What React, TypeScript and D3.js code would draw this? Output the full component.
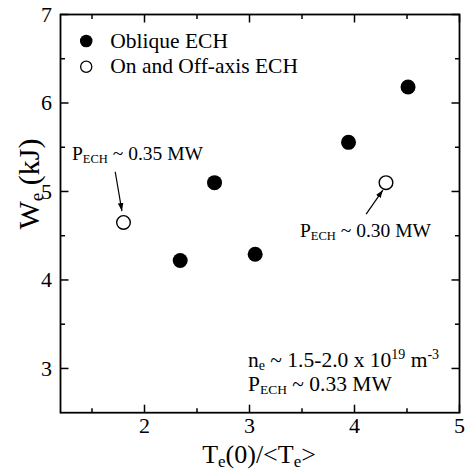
import React from "react";
import * as d3 from "d3";

const obliqueX = [2.34, 2.667, 3.054, 3.943, 4.51];
const obliqueY = [4.22, 5.1, 4.29, 5.555, 6.18];
const onOffX = [1.8, 4.3];
const onOffY = [4.65, 5.1];
const xMajor = [2, 3, 4, 5];
const xMinor = [1.5, 2.5, 3.5, 4.5];
const yMajor = [3, 4, 5, 6, 7];
const yMinor = [3.5, 4.5, 5.5, 6.5];
const arrows = [
  { x1: 1.721, y1: 5.223, x2: 1.785, y2: 4.779 },
  { x1: 4.111, y1: 4.745, x2: 4.27, y2: 5.016 },
];

const W = 473;
const H = 472;
const L = 60.5, R = 459.5, T = 14.5, B = 412.7;
const FONT = "'Liberation Serif', 'Times New Roman', serif";

export default function App() {
  const x = d3.scaleLinear().domain([1.2, 5]).range([L, R]);
  const y = d3.scaleLinear().domain([2.5, 7]).range([B, T]);
  const maj = 8, min = 4.5;
  return (
    <div style={{ position: "absolute", left: 0, top: 0 }}>
      <svg width={W} height={H} style={{ display: "block", background: "#fff" }} fontFamily={FONT}>
        <defs>
          <marker id="ah" viewBox="0 0 10 10" refX="10" refY="5" markerWidth="8" markerHeight="8" orient="auto" markerUnits="userSpaceOnUse">
            <path d="M0,1.5 L10,5 L0,8.5 Z" fill="#000" />
          </marker>
        </defs>
        <rect x={L} y={T} width={R - L} height={B - T} fill="none" stroke="#000" strokeWidth={1.8} />
        {xMajor.map((v) => (
          <g key={"xm" + v}>
            <line x1={x(v)} x2={x(v)} y1={B} y2={B - maj} stroke="#000" strokeWidth={1.5} />
            <line x1={x(v)} x2={x(v)} y1={T} y2={T + maj} stroke="#000" strokeWidth={1.5} />
            <text x={x(v)} y={433} textAnchor="middle" fontSize={22}>{v}</text>
          </g>
        ))}
        {xMinor.map((v) => (
          <g key={"xn" + v}>
            <line x1={x(v)} x2={x(v)} y1={B} y2={B - min} stroke="#000" strokeWidth={1.5} />
            <line x1={x(v)} x2={x(v)} y1={T} y2={T + min} stroke="#000" strokeWidth={1.5} />
          </g>
        ))}
        {yMajor.map((v) => (
          <g key={"ym" + v}>
            <line x1={L} x2={L + maj} y1={y(v)} y2={y(v)} stroke="#000" strokeWidth={1.5} />
            <line x1={R} x2={R - maj} y1={y(v)} y2={y(v)} stroke="#000" strokeWidth={1.5} />
            <text x={52} y={y(v) + 7.5} textAnchor="end" fontSize={22}>{v}</text>
          </g>
        ))}
        {yMinor.map((v) => (
          <g key={"yn" + v}>
            <line x1={L} x2={L + min} y1={y(v)} y2={y(v)} stroke="#000" strokeWidth={1.5} />
            <line x1={R} x2={R - min} y1={y(v)} y2={y(v)} stroke="#000" strokeWidth={1.5} />
          </g>
        ))}
        {obliqueX.map((v, i) => (
          <circle key={"o" + i} cx={x(v)} cy={y(obliqueY[i])} r={7.5} fill="#000" />
        ))}
        {onOffX.map((v, i) => (
          <circle key={"f" + i} cx={x(v)} cy={y(onOffY[i])} r={6.8} fill="#fff" stroke="#000" strokeWidth={1.4} />
        ))}
        {arrows.map((a, i) => (
          <line key={"a" + i} x1={x(a.x1)} y1={y(a.y1)} x2={x(a.x2)} y2={y(a.y2)} stroke="#000" strokeWidth={1.2} markerEnd="url(#ah)" />
        ))}
        {/* legend */}
        <circle cx={x(1.445)} cy={y(6.7)} r={6.3} fill="#000" />
        <circle cx={x(1.445)} cy={y(6.41)} r={5.6} fill="#fff" stroke="#000" strokeWidth={1.3} />
        <text x={x(1.674)} y={48} fontSize={21.5}>Oblique ECH</text>
        <text x={x(1.674)} y={73} fontSize={21.5}>On and Off-axis ECH</text>
        {/* annotations */}
        <text x={72} y={160} fontSize={19.5}>
          P<tspan fontSize={12.5} dy={3}>ECH</tspan><tspan dy={-3}> ~ 0.35 MW</tspan>
        </text>
        <text x={300} y={237} fontSize={19.5}>
          P<tspan fontSize={12.5} dy={3}>ECH</tspan><tspan dy={-3}> ~ 0.30 MW</tspan>
        </text>
        <text x={248} y={367} fontSize={21.5}>
          n<tspan fontSize={14} dy={3}>e</tspan><tspan dy={-3}> ~ 1.5-2.0 x 10</tspan><tspan fontSize={14} dy={-8}>19</tspan><tspan dy={8}> m</tspan><tspan fontSize={14} dy={-8}>-3</tspan>
        </text>
        <text x={248} y={391} fontSize={21.5}>
          P<tspan fontSize={13.5} dy={3}>ECH</tspan><tspan dy={-3}> ~ 0.33 MW</tspan>
        </text>
        {/* axis labels */}
        <text x={259} y={463} textAnchor="middle" fontSize={26}>
          T<tspan fontSize={17} dy={4}>e</tspan><tspan dy={-4}>(0)/&lt;T</tspan><tspan fontSize={17} dy={4}>e</tspan><tspan dy={-4}>&gt;</tspan>
        </text>
        <text transform="translate(39,184) rotate(-90)" textAnchor="middle" fontSize={30}>
          W<tspan fontSize={19} dy={4}>e</tspan><tspan dy={-4}> (kJ)</tspan>
        </text>
      </svg>
    </div>
  );
}
